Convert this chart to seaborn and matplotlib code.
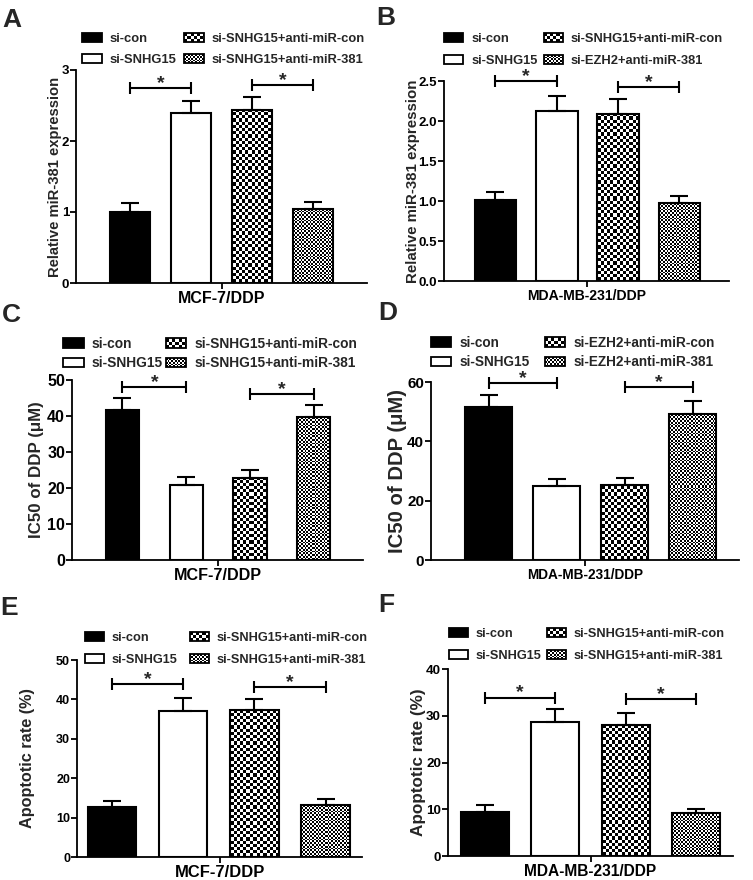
import numpy as np
import pandas as pd
import matplotlib
matplotlib.use("Agg")
import matplotlib.pyplot as plt
import seaborn as sns
from matplotlib.patches import Rectangle, Patch
from matplotlib.legend_handler import HandlerBase

# ---------------- data ----------------
labels_A = ["si-con", "si-SNHG15", "si-SNHG15+anti-miR-con", "si-SNHG15+anti-miR-381"]
values_A = [1.00, 2.39, 2.44, 1.04]
errors_A = [0.13, 0.18, 0.18, 0.10]
sig_A = [2.74, 2.79]
yticks_A = [0, 1, 2, 3]

labels_B = ["si-con", "si-SNHG15", "si-SNHG15+anti-miR-con", "si-EZH2+anti-miR-381"]
values_B = [1.01, 2.13, 2.09, 0.97]
errors_B = [0.10, 0.18, 0.18, 0.09]
sig_B = [2.50, 2.43]
yticks_B = [0.0, 0.5, 1.0, 1.5, 2.0, 2.5]

labels_C = ["si-con", "si-SNHG15", "si-SNHG15+anti-miR-con", "si-SNHG15+anti-miR-381"]
values_C = [41.7, 20.8, 22.7, 39.6]
errors_C = [3.4, 2.3, 2.3, 3.5]
sig_C = [48.1, 46.0]
yticks_C = [0, 10, 20, 30, 40, 50]

labels_D = ["si-con", "si-SNHG15", "si-EZH2+anti-miR-con", "si-EZH2+anti-miR-381"]
values_D = [51.6, 25.0, 25.2, 49.3]
errors_D = [4.1, 2.2, 2.3, 4.2]
sig_D = [59.8, 58.2]
yticks_D = [0, 20, 40, 60]

labels_E = ["si-con", "si-SNHG15", "si-SNHG15+anti-miR-con", "si-SNHG15+anti-miR-381"]
values_E = [12.8, 37.0, 37.3, 13.2]
errors_E = [1.5, 3.3, 2.8, 1.5]
sig_E = [43.9, 43.2]
yticks_E = [0, 10, 20, 30, 40, 50]

labels_F = ["si-con", "si-SNHG15", "si-SNHG15+anti-miR-con", "si-SNHG15+anti-miR-381"]
values_F = [9.4, 28.7, 28.0, 9.1]
errors_F = [1.5, 2.7, 2.5, 1.0]
sig_F = [33.9, 33.6]
yticks_F = [0, 10, 20, 30, 40]

# ---------------- style ----------------
sns.set_theme(style="ticks")
plt.rcParams["font.family"] = ["Liberation Sans", "DejaVu Sans"]
plt.rcParams["font.weight"] = "bold"
plt.rcParams["axes.labelweight"] = "bold"

W, H = 753, 880
fig = plt.figure(figsize=(W / 100, H / 100), dpi=100)


class CheckerHandler(HandlerBase):
    def __init__(self, cell):
        super().__init__()
        self.cell = cell

    def create_artists(self, legend, orig_handle, xdescent, ydescent,
                       width, height, fontsize, trans):
        arts = []
        x0, y0 = -xdescent, -ydescent
        arts.append(Rectangle((x0, y0), width, height, facecolor="white",
                              edgecolor="none", transform=trans))
        c = self.cell
        nx = int(np.ceil(width / c))
        ny = int(np.ceil(height / c))
        for i in range(nx):
            for j in range(ny):
                if (i + j) % 2 == 0:
                    w = min(c, width - i * c)
                    h = min(c, height - j * c)
                    arts.append(Rectangle((x0 + i * c, y0 + j * c), w, h,
                                          facecolor="black", edgecolor="none",
                                          transform=trans))
        arts.append(Rectangle((x0, y0), width, height, facecolor="none",
                              edgecolor="black", lw=1.3, transform=trans))
        return arts


def checker(nx, ny, cell):
    ix = np.floor(np.arange(nx) / cell).astype(int)
    iy = np.floor(np.arange(ny) / cell).astype(int)
    return ((ix[None, :] + iy[:, None]) % 2).astype(float)


panels = [
    dict(letter="A", labels=labels_A, values=values_A, errors=errors_A, sig=sig_A,
         yticks=yticks_A, ylabel="Relative miR-381 expression", xlabel="MCF-7/DDP",
         box=(76, 70, 367, 283), xlim=(-0.885, 3.885), width=0.67,
         tick_fs=9.5, ylab_fs=10.6, xlab_fs=11.5, leg_fs=9.4, ylab_x=55,
         leg=(82, 33), lspace=0.68, cspace=0.6, letter_pos=(2, 27)),
    dict(letter="B", labels=labels_B, values=values_B, errors=errors_B, sig=sig_B,
         yticks=yticks_B, ylabel="Relative miR-381 expression", xlabel="MDA-MB-231/DDP",
         box=(444, 81, 729, 281), xlim=(-0.84, 3.81), width=0.68,
         tick_fs=9.5, ylab_fs=10.8, xlab_fs=10.1, leg_fs=9.3, ylab_x=413,
         leg=(444, 33), lspace=0.75, cspace=0.47, letter_pos=(376, 25)),
    dict(letter="C", labels=labels_C, values=values_C, errors=errors_C, sig=sig_C,
         yticks=yticks_C, ylabel="IC50 of DDP (μM)", xlabel="MCF-7/DDP",
         box=(72, 380, 363, 560), xlim=(-0.79, 3.77), width=0.52,
         tick_fs=11.5, ylab_fs=12.2, xlab_fs=11.6, leg_fs=9.9, ylab_x=37,
         leg=(63, 337), lspace=0.38, cspace=0.2, letter_pos=(2, 322)),
    dict(letter="D", labels=labels_D, values=values_D, errors=errors_D, sig=sig_D,
         yticks=yticks_D, ylabel="IC50 of DDP (μM)", xlabel="MDA-MB-231/DDP",
         box=(431, 382, 739, 560), xlim=(-0.85, 3.68), width=0.69,
         tick_fs=11, ylab_fs=14.6, xlab_fs=9.8, leg_fs=9.8, ylab_x=397,
         leg=(431, 336), lspace=0.4, cspace=1.1, letter_pos=(378, 320)),
    dict(letter="E", labels=labels_E, values=values_E, errors=errors_E, sig=sig_E,
         yticks=yticks_E, ylabel="Apoptotic rate (%)", xlabel="MCF-7/DDP",
         box=(77, 660, 362, 857), xlim=(-0.49, 3.51), width=0.68,
         tick_fs=9, ylab_fs=11.7, xlab_fs=11.9, leg_fs=9.2, ylab_x=28,
         leg=(85, 632), lspace=0.8, cspace=0.94, letter_pos=(0, 615)),
    dict(letter="F", labels=labels_F, values=values_F, errors=errors_F, sig=sig_F,
         yticks=yticks_F, ylabel="Apoptotic rate (%)", xlabel="MDA-MB-231/DDP",
         box=(448, 669, 733, 856), xlim=(-0.52, 3.52), width=0.68,
         tick_fs=9.7, ylab_fs=12.3, xlab_fs=11.2, leg_fs=9.2, ylab_x=418,
         leg=(449, 628), lspace=0.8, cspace=0.4, letter_pos=(378, 612)),
]

colors = ["black", "white", "white", "white"]
cells = [None, None, 3.2, 1.8]      # checker cell size in pixels

for p in panels:
    l, t, r, b = p["box"]
    ax = fig.add_axes([l / W, 1 - b / H, (r - l) / W, (b - t) / H])
    df = pd.DataFrame({"group": p["labels"], "value": p["values"]})
    pal = dict(zip(p["labels"], colors))
    sns.barplot(data=df, x="group", y="value", hue="group", palette=pal,
                order=p["labels"], hue_order=p["labels"], width=p["width"],
                edgecolor="black", linewidth=1.5, saturation=1, errorbar=None,
                legend=False, ax=ax)
    ymax = p["yticks"][-1]
    ax.set_xlim(*p["xlim"])
    ax.set_ylim(0, ymax)

    # error bars (upper only)
    xs = np.arange(len(p["values"]))
    ax.errorbar(xs, p["values"], yerr=[np.zeros(len(xs)), p["errors"]],
                fmt="none", ecolor="black", elinewidth=1.5, capsize=6.5,
                capthick=1.5, zorder=3)

    # checkerboard fills
    bars = sorted([pt for pt in ax.patches if isinstance(pt, Rectangle)],
                  key=lambda q: q.get_x())
    fig.canvas.draw()
    for k, bar in enumerate(bars):
        if cells[k] is None:
            continue
        x0 = bar.get_x(); x1 = x0 + bar.get_width()
        y0 = bar.get_y(); y1 = y0 + bar.get_height()
        (px0, py0) = ax.transData.transform((x0, y0))
        (px1, py1) = ax.transData.transform((x1, y1))
        nx = max(int(round(px1 - px0)), 1)
        ny = max(int(round(py1 - py0)), 1)
        img = checker(nx, ny, cells[k])
        ax.imshow(img, extent=(x0, x1, y0, y1), origin="lower", cmap="gray",
                  vmin=0, vmax=1, interpolation="nearest", aspect="auto",
                  zorder=0.5)
        bar.set_facecolor("none")
        bar.set_zorder(1)
    ax.set_xlim(*p["xlim"])
    ax.set_ylim(0, ymax)

    # significance brackets
    for (i, j), h in zip([(0, 1), (2, 3)], p["sig"]):
        ax.plot([i, j], [h, h], color="black", lw=1.5, marker="|",
                markersize=9, markeredgewidth=1.5, clip_on=False, zorder=4)
        ax.annotate("*", xy=((i + j) / 2, h), xytext=(0, 0),
                    textcoords="offset points", ha="center", va="baseline",
                    fontsize=14, fontweight="bold", annotation_clip=False)

    # axes styling
    sns.despine(ax=ax)
    for s in ["left", "bottom"]:
        ax.spines[s].set_linewidth(1.3)
        ax.spines[s].set_color("black")
    ax.set_yticks(p["yticks"])
    mid = (p["xlim"][0] + p["xlim"][1]) / 2
    ax.set_xticks([mid])
    ax.set_xticklabels([p["xlabel"]], fontsize=p["xlab_fs"], fontweight="bold")
    ax.tick_params(axis="y", labelsize=p["tick_fs"], length=4, width=1.3,
                   direction="out", colors="black", pad=1)
    ax.tick_params(axis="x", length=4, width=1.3, direction="out",
                   colors="black", pad=2)
    ax.set_xlabel("")
    ax.set_ylabel(p["ylabel"], fontsize=p["ylab_fs"], fontweight="bold",
                  va="center")
    ax.yaxis.set_label_coords((p["ylab_x"] - l) / (r - l), 0.5)

    # legend
    handles = [Patch(facecolor="black", edgecolor="black", lw=1.3),
               Patch(facecolor="white", edgecolor="black", lw=1.3),
               Patch(facecolor="white", edgecolor="black"),
               Patch(facecolor="white", edgecolor="black")]
    hmap = {handles[2]: CheckerHandler(3.2 * 0.72),
            handles[3]: CheckerHandler(1.8 * 0.72)}
    lx, ly = p["leg"]
    ax.legend(handles, p["labels"], handler_map=hmap, ncol=2, loc="upper left",
              bbox_to_anchor=(lx / W, 1 - ly / H), bbox_transform=fig.transFigure,
              frameon=False, borderpad=0, borderaxespad=0, handlelength=1.5,
              handleheight=0.7, handletextpad=0.6, columnspacing=p["cspace"],
              labelspacing=p["lspace"], prop={"size": p["leg_fs"], "weight": "bold"})

    lx0, ly0 = p["letter_pos"]
    fig.text(lx0 / W, 1 - ly0 / H, p["letter"], fontsize=19, fontweight="bold",
             ha="left", va="baseline")

fig.savefig("out.png", dpi=100)
